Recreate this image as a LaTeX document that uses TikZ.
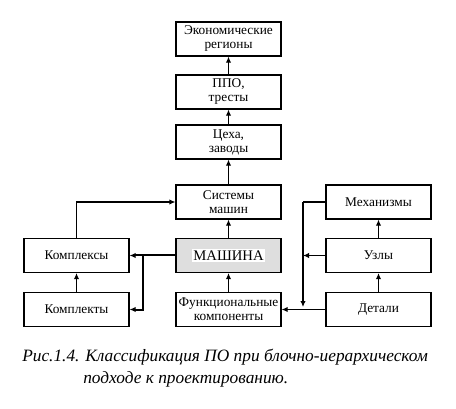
\documentclass[tikz,border=0pt]{standalone}
\usepackage{fontspec}
\setmainfont{Liberation Serif}
\usetikzlibrary{arrows.meta}
\begin{document}
\begin{tikzpicture}[x=0.75pt,y=-0.75pt,
  box/.style={draw=black,line width=0.9pt,fill=white,minimum width=78.75pt,minimum height=25.5pt,inner sep=0pt,align=center,font=\fontsize{10}{10.5}\selectfont},
  arr/.style={line width=0.8pt,-{Latex[length=4.5pt,width=4pt]}},
  thk/.style={line width=1.5pt}]
\useasboundingbox (0,0) rectangle (456,409);
\node[box] (eco) at (228.5,39) {Экономические\\регионы};
\node[box] (ppo) at (228.5,92) {ППО,\\тресты};
\node[box] (ceh) at (228.5,142) {Цеха,\\заводы};
\node[box] (sys) at (228.5,202) {Системы\\машин};
\node[box,fill=black!13] (mash) at (228.5,255.5) {{\setlength{\fboxsep}{1pt}\colorbox{white}{\fontsize{11}{12}\selectfont МАШИНА}}};
\node[box] (func) at (228.5,309.5) {Функциональные\\компоненты};
\node[box] (kplx) at (76.5,255.5) {Комплексы};
\node[box] (kpkt) at (76.5,309.5) {Комплекты};
\node[box] (mech) at (378.5,202) {Механизмы};
\node[box] (uzly) at (378.5,255.5) {Узлы};
\node[box] (det) at (378.5,309.5) {Детали};
\coordinate (j) at (143,255.5);
\coordinate (rt) at (303,202);
\coordinate (rb) at (303,307);
\coordinate (ru) at (303,255.5);
\draw[arr] (ppo.north) -- (eco.south);
\draw[arr] (ceh.north) -- (ppo.south);
\draw[arr] (sys.north) -- (ceh.south);
\draw[arr] (mash.north) -- (sys.south);
\draw[arr] (func.north) -- (mash.south);
\draw[arr] (kplx.north) |- (sys.west);
\draw[arr,thk] (mash.west) -- (kplx.east);
\draw[arr,thk] (j) |- (kpkt.east);
\draw[arr] (kpkt.north) -- (kplx.south);
\draw[thk] (mech.west) -- (rt);
\draw[arr] (rt) -- (rb);
\draw[arr] (uzly.west) -- (ru);
\draw[arr] (det.west) -- (func.east);
\draw[arr] (uzly.north) -- (mech.south);
\draw[arr] (det.north) -- (uzly.south);
\node[anchor=base west,inner sep=0pt,font=\fontsize{13}{14}\selectfont\itshape] (cap1) at (22,361) {Рис.1.4. Классификация ПО при блочно-иерархическом};
\node[anchor=base west,inner sep=0pt,font=\fontsize{13}{14}\selectfont\itshape] (cap2) at (83,383) {подходе к проектированию.};
\end{tikzpicture}
\end{document}
